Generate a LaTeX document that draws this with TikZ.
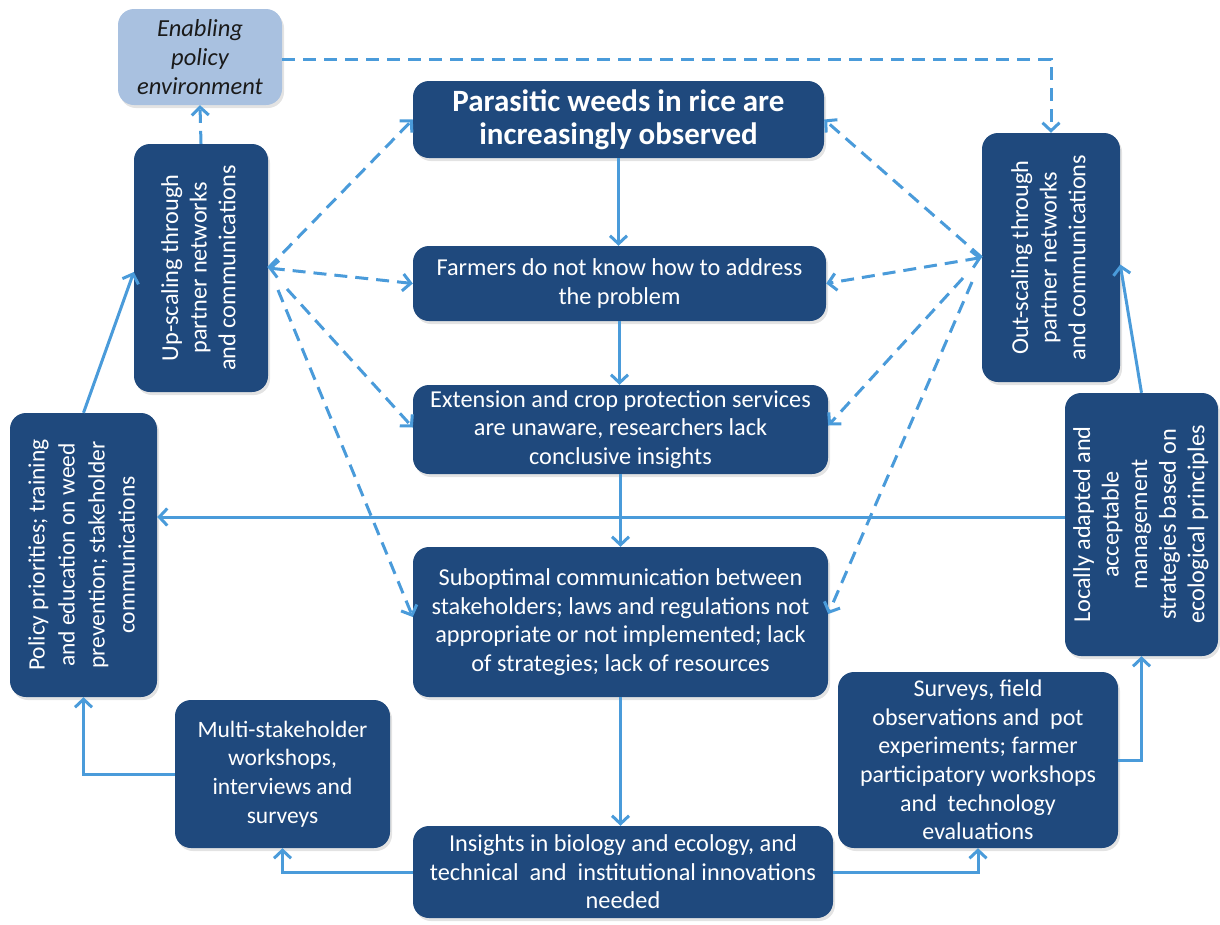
\documentclass[tikz,border=0pt]{standalone}
\usepackage{fontspec}
\setmainfont{Carlito}
\usetikzlibrary{arrows.meta,shadows,calc}
\definecolor{navy}{HTML}{1F497D}
\definecolor{lnblue}{HTML}{4A9BDA}
\definecolor{pale}{HTML}{A9C1E0}
\definecolor{darktext}{HTML}{1A1A1A}
\newcommand{\rottext}[1]{\rotatebox{90}{\begin{tabular}{@{}c@{}}#1\end{tabular}}}
\tikzset{
  box/.style={rounded corners=16pt, fill=navy, text=white, align=center, inner sep=0pt,
    font=\fontsize{24.3}{28.6}\selectfont,
    drop shadow={shadow xshift=2pt,shadow yshift=-3pt,opacity=0.22}},
  sol/.style={draw=lnblue, line width=3pt, -{Straight Barb[length=8pt,width=17pt]}},
  dsh/.style={sol, dash pattern=on 13pt off 8pt},
  dshboth/.style={dsh, {Straight Barb[length=8pt,width=17pt]}-{Straight Barb[length=8pt,width=17pt]}},
}
\begin{document}
\begin{tikzpicture}[x=1pt,y=-1pt]
\useasboundingbox (0,0) rectangle (1220,924);
% nodes
\node[box, fill=pale, text=darktext, font=\itshape\fontsize{24.5}{29}\selectfont,
  minimum width=164pt, minimum height=96pt] (enab) at (200,57) {Enabling\\policy\\environment};
\node[box, font=\bfseries\fontsize{31}{33}\selectfont, minimum width=411pt, minimum height=77pt]
  (top) at (618.5,119.5) {Parasitic weeds in rice are\\increasingly observed};
\node[box, minimum width=413pt, minimum height=75pt] (farm) at (619.5,283.5)
  {Farmers do not know how to address\\the problem};
\node[box, minimum width=415pt, minimum height=89pt] (ext) at (620.5,429.5)
  {Extension and crop protection services\\are unaware, researchers lack\\conclusive insights};
\node[box, minimum width=415pt, minimum height=150pt] (sub) at (620.5,622)
  {Suboptimal communication between\\stakeholders; laws and regulations not\\appropriate or not implemented; lack\\of strategies; lack of resources};
\node[box, minimum width=420pt, minimum height=92pt] (ins) at (623,872)
  {Insights in biology and ecology, and\\technical\ \ and\ \ institutional innovations\\needed};
\node[box, minimum width=134pt, minimum height=248pt] (up) at (201,268)
  {\rottext{Up-scaling through\\partner networks\\and communications}};
\node[box, minimum width=138pt, minimum height=249pt] (out) at (1051,257.5)
  {\rottext{Out-scaling through\\partner networks\\and communications}};
\node[box, font=\fontsize{23.5}{30}\selectfont, minimum width=147pt, minimum height=284pt] (pol) at (83.5,555)
  {\rottext{Policy priorities; training\\and education on weed\\prevention; stakeholder\\communications}};
\node[box, minimum width=153pt, minimum height=263pt] (loc) at (1141.5,524.5)
  {\rottext{Locally adapted and\\acceptable\\management\\strategies based on\\ecological principles}};
\node[box, font=\fontsize{23.5}{28.6}\selectfont, minimum width=215pt, minimum height=148pt] (multi) at (282.5,774)
  {Multi-stakeholder\\workshops,\\interviews and\\surveys};
\node[box, font=\fontsize{24}{28.6}\selectfont, minimum width=280pt, minimum height=176pt] (surv) at (978,760)
  {Surveys, field\\observations and\ \ pot\\experiments; farmer\\participatory workshops\\and\ \ technology\\evaluations};
% helper coordinates
\coordinate (hline) at (0,517);
\coordinate (upA) at (287,289);
\coordinate (upB) at (278,290);
\coordinate (outA) at (963,278);
\coordinate (outB) at (972,282);
% solid connectors
\draw[sol] (top.south) -- (top.south |- farm.north);
\draw[sol] (farm.south) -- (farm.south |- ext.north);
\draw[sol] (ext.south) -- (ext.south |- sub.north);
\draw[sol] (sub.south) -- (sub.south |- ins.north);
\draw[sol] (ins.west) -| (multi.south);
\draw[sol] (ins.east) -| (surv.south);
\draw[sol] (multi.west) -| (pol.south);
\draw[sol] (pol.north) -- ([yshift=-4pt]up.west);
\draw[sol] (loc.west |- hline) -- (pol.east |- hline);
\draw[sol] (surv.east) -| (loc.south);
\draw[sol] (loc.north) -- ([yshift=-7pt]out.east);
% dashed connectors
\draw[dsh] (up.north) -- (enab.south);
\draw[dsh] ([yshift=-2pt]enab.east) -| (out.north);
\draw[dsh] (up.east) -- (top.west);
\draw[dshboth] (up.east) -- (farm.west);
\draw[dsh] (upA) -- ([yshift=2pt]ext.west);
\draw[dsh] (upB) -- ([yshift=5pt]sub.west);
\draw[dsh] (out.west) -- (top.east);
\draw[dshboth] (out.west) -- (farm.east);
\draw[dsh] (outA) -- ([yshift=4pt]ext.east);
\draw[dsh] (outB) -- ([yshift=8pt]sub.east);
\end{tikzpicture}
\end{document}
